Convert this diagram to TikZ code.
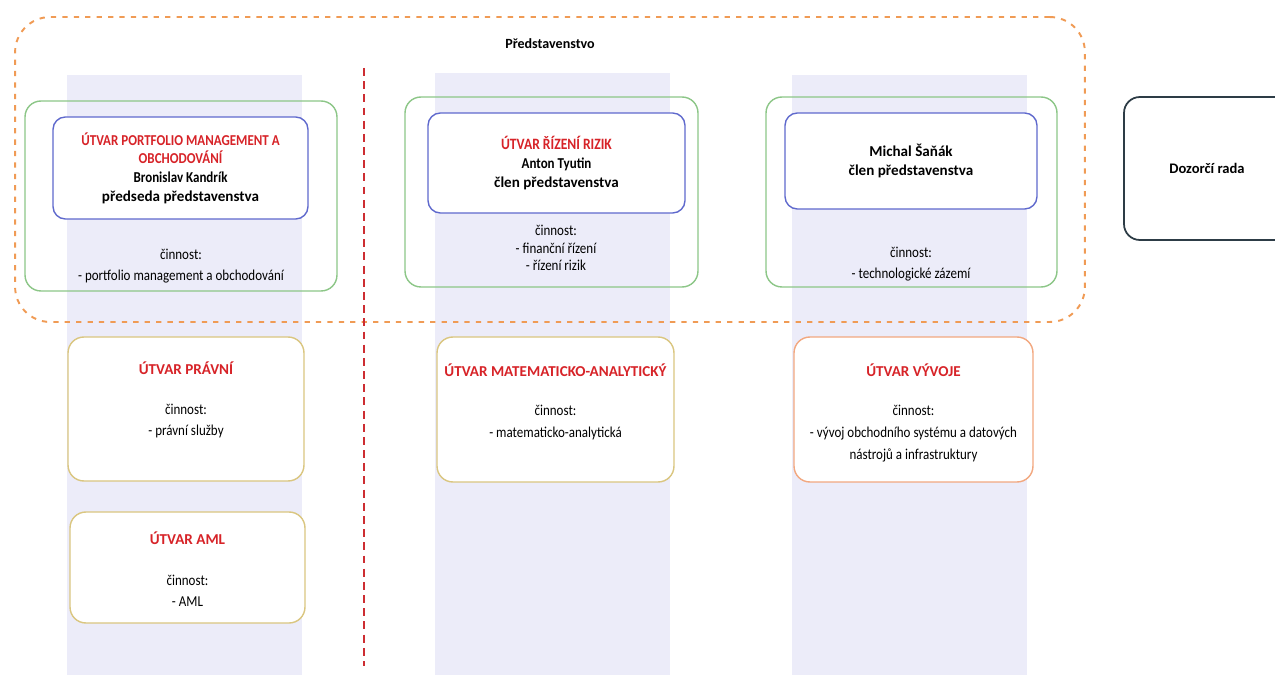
\documentclass[tikz,border=0pt]{standalone}
\usepackage{fontspec}
\setmainfont{Carlito}
\newfontfamily\narrowfont[FakeStretch=0.86]{Carlito}
\usetikzlibrary{positioning}

\definecolor{boardorange}{RGB}{240,155,85}
\definecolor{splitred}{RGB}{205,45,50}
\definecolor{headred}{RGB}{215,35,40}
\definecolor{membergreen}{RGB}{140,198,135}
\definecolor{chairblue}{RGB}{95,105,205}
\definecolor{unitgold}{RGB}{218,198,128}
\definecolor{devsalmon}{RGB}{242,168,128}
\definecolor{councildark}{RGB}{45,60,70}
\definecolor{lanefill}{RGB}{236,236,249}

\begin{document}
\begin{tikzpicture}[x=0.02cm, y=-0.02cm,
    every node/.style={font=\fontsize{8.6}{11}\selectfont, align=center, inner sep=0pt},
    lane/.style={fill=lanefill, draw=none, minimum width=4.7cm},
    member/.style={draw=membergreen, line width=0.8pt, rounded corners=9pt, minimum height=3.8cm},
    head/.style={draw=chairblue, line width=0.8pt, rounded corners=7pt, fill=white,
      font=\fontsize{8.6}{11}\selectfont\bfseries},
    unit/.style={draw=unitgold, line width=0.8pt, rounded corners=9pt, fill=white},
    title/.style={text=headred, font=\fontsize{8.6}{11}\selectfont\bfseries},
    task/.style={font=\narrowfont\fontsize{8.6}{12}\selectfont},
  ]
  \useasboundingbox (0,0) rectangle (1275,675);

  % background lanes
  \node[lane, minimum height=12cm] (laneA) at (184.5,375) {};
  \node[lane, minimum height=12.04cm] (laneB) at (552.5,374) {};
  \node[lane, minimum height=12cm] (laneC) at (909.5,375) {};

  % board
  \node[draw=boardorange, line width=1.1pt, dash pattern=on 3pt off 3.5pt,
    rounded corners=20pt, minimum width=21.4cm, minimum height=6.1cm] (board) at (550,169.5) {};
  \node[font=\fontsize{8}{10}\selectfont\bfseries] (boardlabel) at (550,44) {Představenstvo};

  \node[member, minimum width=6.24cm] (memberA) at (181,196) {};
  \node[member, minimum width=5.86cm] (memberB) at (551.5,192) {};
  \node[member, minimum width=5.82cm] (memberC) at (911.5,192) {};

  \node[head, minimum width=5.1cm, minimum height=2.04cm, font=\fontsize{8.6}{10.6}\selectfont\bfseries] (headA) at (180.5,168)
    {\textcolor{headred}{\narrowfont ÚTVAR PORTFOLIO MANAGEMENT A}\\\textcolor{headred}{\narrowfont OBCHODOVÁNÍ}\\{\narrowfont Bronislav Kandrík}\\předseda představenstva};
  \node[head, minimum width=5.14cm, minimum height=2cm] (headB) at (556.5,163)
    {\textcolor{headred}{\narrowfont\fontsize{9}{11}\selectfont ÚTVAR ŘÍZENÍ RIZIK}\\{\narrowfont Anton Tyutin}\\člen představenstva};
  \node[head, minimum width=5.04cm, minimum height=1.92cm] (headC) at (911,161)
    {Michal Šaňák\\člen představenstva};

  \node[task] (taskA) at (181,266) {činnost:\\- portfolio management a obchodování};
  \node[task, font=\narrowfont\fontsize{8.6}{10}\selectfont] (taskB) at (556,248) {činnost:\\- finanční řízení\\- řízení rizik};
  \node[task] (taskC) at (911,264) {činnost:\\- technologické zázemí};

  % departments
  \node[unit, minimum width=4.72cm, minimum height=2.88cm] (legal) at (186,409) {};
  \node[title] (legaltitle) at (186,368) {ÚTVAR PRÁVNÍ};
  \node[task] (legaltask) at (186,421) {činnost:\\- právní služby};

  \node[unit, minimum width=4.7cm, minimum height=2.22cm] (aml) at (187.5,567.5) {};
  \node[title] (amltitle) at (187.5,538) {ÚTVAR AML};
  \node[task] (amltask) at (187.5,591) {činnost:\\- AML};

  \node[unit, minimum width=4.74cm, minimum height=2.9cm] (math) at (555.5,409.5) {};
  \node[title] (mathtitle) at (555.5,370) {ÚTVAR MATEMATICKO-ANALYTICKÝ};
  \node[task] (mathtask) at (555.5,422.5) {činnost:\\- matematicko-analytická};

  \node[unit, draw=devsalmon, minimum width=4.78cm, minimum height=2.9cm] (dev) at (913.5,409.5) {};
  \node[title] (devtitle) at (913.5,370) {ÚTVAR VÝVOJE};
  \node[task, font=\narrowfont\fontsize{8.6}{12.5}\selectfont] (devtask) at (913.5,434) {činnost:\\- vývoj obchodního systému a datových\\nástrojů a infrastruktury};

  % supervisory board
  \node[draw=councildark, line width=1pt, rounded corners=9pt, minimum width=3.32cm,
    minimum height=2.86cm, font=\fontsize{8.3}{11}\selectfont\bfseries] (council) at (1207,168.5) {Dozorčí rada};

  \coordinate (splitTop) at (364,68);
  \coordinate (splitBottom) at (364,666);
  \draw[splitred, line width=1.1pt, dash pattern=on 4.5pt off 3pt] (splitTop) -- (splitBottom);

\end{tikzpicture}
\end{document}
